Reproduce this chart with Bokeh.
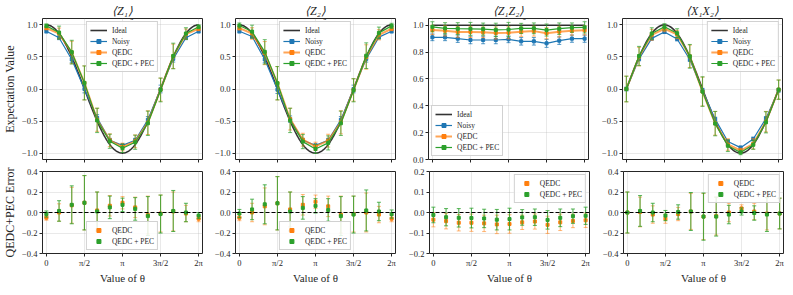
import numpy as np
from bokeh.plotting import figure
from bokeh.layouts import column, row
from bokeh.models import Range1d, FixedTicker, Span, Label, Legend, LegendItem
from bokeh.embed import file_html
from bokeh.resources import INLINE

PI = np.pi

# ---------------- data ----------------
theta_sixths = [0, 1, 2, 3, 4, 5, 6, 7, 8, 9, 10, 11, 12]
theta = [k * PI / 6 for k in theta_sixths]

x_tick_values = [0, PI / 2, PI, 3 * PI / 2, 2 * PI]
x_tick_labels = ["0", "π/2", "π", "3π/2", "2π"]

titles = ["⟨Z₁⟩", "⟨Z₂⟩", "⟨Z₁Z₂⟩", "⟨X₁X₂⟩"]
title_half_widths = [10.5, 10.5, 17.0, 18.0]
series_names = ["Ideal", "Noisy", "QEDC", "QEDC + PEC"]

# <Z1>
Z1_noisy = [0.90, 0.80, 0.46, 0.00, -0.45, -0.80, -0.88, -0.80, -0.48, 0.00, 0.47, 0.80, 0.90]
Z1_noisy_err = [0.025, 0.03, 0.05, 0.06, 0.05, 0.03, 0.025, 0.03, 0.05, 0.06, 0.05, 0.03, 0.025]
Z1_qedc = [0.95, 0.866, 0.57, 0.095, -0.48, -0.80, -0.905, -0.816, -0.525, -0.01, 0.51, 0.856, 0.94]
Z1_qedc_err = [0.025, 0.085, 0.175, 0.265, 0.18, 0.10, 0.06, 0.10, 0.185, 0.18, 0.19, 0.08, 0.03]
Z1_pec = [0.985, 0.881, 0.575, 0.095, -0.49, -0.816, -0.925, -0.831, -0.535, -0.015, 0.515, 0.866, 0.97]
Z1_pec_err = [0.03, 0.10, 0.185, 0.265, 0.19, 0.11, 0.065, 0.11, 0.19, 0.185, 0.20, 0.09, 0.03]
Z1_qedc_diff = [-0.05, 0.0, 0.07, 0.095, 0.02, 0.066, 0.095, 0.05, -0.025, -0.01, 0.01, -0.01, -0.06]
Z1_pec_diff = [-0.015, 0.015, 0.075, 0.095, 0.01, 0.05, 0.075, 0.035, -0.035, -0.015, 0.015, 0.0, -0.03]

# <Z2>
Z2_noisy = [0.90, 0.82, 0.46, -0.01, -0.47, -0.80, -0.88, -0.80, -0.48, 0.00, 0.47, 0.81, 0.90]
Z2_noisy_err = [0.025, 0.03, 0.05, 0.06, 0.05, 0.03, 0.025, 0.03, 0.05, 0.06, 0.05, 0.03, 0.025]
Z2_qedc = [0.95, 0.866, 0.56, 0.09, -0.47, -0.791, -0.895, -0.806, -0.52, -0.015, 0.50, 0.846, 0.94]
Z2_qedc_err = [0.03, 0.09, 0.18, 0.26, 0.17, 0.10, 0.065, 0.10, 0.18, 0.175, 0.19, 0.08, 0.03]
Z2_pec = [0.99, 0.896, 0.58, 0.09, -0.49, -0.821, -0.935, -0.841, -0.535, -0.02, 0.52, 0.876, 0.985]
Z2_pec_err = [0.04, 0.10, 0.19, 0.26, 0.19, 0.11, 0.07, 0.11, 0.19, 0.18, 0.20, 0.09, 0.04]
Z2_qedc_diff = [-0.05, 0.0, 0.06, 0.09, 0.03, 0.075, 0.105, 0.06, -0.02, -0.015, 0.0, -0.02, -0.06]
Z2_pec_diff = [-0.01, 0.03, 0.08, 0.09, 0.01, 0.045, 0.065, 0.025, -0.035, -0.02, 0.02, 0.01, -0.015]

# <Z1Z2>
ZZ_noisy = [0.91, 0.91, 0.90, 0.89, 0.89, 0.89, 0.895, 0.88, 0.88, 0.865, 0.885, 0.90, 0.90]
ZZ_noisy_err = [0.025, 0.025, 0.028, 0.028, 0.028, 0.028, 0.025, 0.028, 0.028, 0.03, 0.028, 0.027, 0.027]
ZZ_qedc = [0.965, 0.958, 0.95, 0.95, 0.947, 0.942, 0.944, 0.952, 0.956, 0.94, 0.952, 0.959, 0.962]
ZZ_qedc_err = [0.035, 0.038, 0.04, 0.042, 0.04, 0.045, 0.045, 0.035, 0.037, 0.042, 0.04, 0.033, 0.035]
ZZ_pec = [0.988, 0.977, 0.974, 0.973, 0.971, 0.965, 0.968, 0.976, 0.977, 0.964, 0.974, 0.982, 0.984]
ZZ_pec_err = [0.038, 0.042, 0.045, 0.048, 0.045, 0.05, 0.053, 0.038, 0.04, 0.045, 0.043, 0.035, 0.042]
ZZ_qedc_diff = [-0.035, -0.042, -0.05, -0.05, -0.053, -0.058, -0.056, -0.048, -0.044, -0.06, -0.048, -0.041, -0.038]
ZZ_pec_diff = [-0.012, -0.023, -0.026, -0.027, -0.029, -0.035, -0.032, -0.024, -0.023, -0.036, -0.026, -0.018, -0.016]

# <X1X2>
XX_noisy = [0.0, 0.47, 0.79, 0.89, 0.78, 0.46, -0.02, -0.47, -0.82, -0.915, -0.78, -0.46, -0.02]
XX_noisy_err = [0.03, 0.03, 0.03, 0.025, 0.03, 0.03, 0.03, 0.03, 0.03, 0.025, 0.03, 0.03, 0.03]
XX_qedc = [0.0, 0.505, 0.846, 0.94, 0.851, 0.51, -0.04, -0.535, -0.866, -0.96, -0.856, -0.51, -0.01]
XX_qedc_err = [0.2, 0.145, 0.085, 0.045, 0.065, 0.175, 0.225, 0.185, 0.09, 0.035, 0.08, 0.16, 0.15]
XX_pec = [0.0, 0.515, 0.866, 0.97, 0.871, 0.51, -0.04, -0.54, -0.886, -0.99, -0.871, -0.52, -0.01]
XX_pec_err = [0.2, 0.15, 0.09, 0.05, 0.07, 0.185, 0.23, 0.19, 0.09, 0.035, 0.07, 0.165, 0.15]
XX_qedc_diff = [0.0, 0.005, -0.02, -0.06, -0.015, 0.01, -0.04, -0.035, 0.0, 0.04, 0.01, -0.01, -0.01]
XX_pec_diff = [0.0, 0.015, 0.0, -0.03, 0.005, 0.01, -0.04, -0.04, -0.02, 0.01, -0.005, -0.02, -0.01]

# ideal (analytic) curves
theta_fine = np.linspace(0, 2 * PI, 300)
ideal_curves = [np.cos(theta_fine), np.cos(theta_fine), np.ones_like(theta_fine), np.sin(theta_fine)]

top_y_ranges = [(-1.1, 1.1), (-1.1, 1.1), (0.0, 1.05), (-1.1, 1.1)]
top_y_ticks = [[-1.0, -0.5, 0.0, 0.5, 1.0], [-1.0, -0.5, 0.0, 0.5, 1.0],
               [0.0, 0.2, 0.4, 0.6, 0.8, 1.0], [-1.0, -0.5, 0.0, 0.5, 1.0]]
bot_y_ranges = [(-0.4, 0.4), (-0.4, 0.4), (-0.2, 0.2), (-0.4, 0.4)]
bot_y_ticks = [[-0.4, -0.2, 0.0, 0.2, 0.4], [-0.4, -0.2, 0.0, 0.2, 0.4],
               [-0.2, -0.1, 0.0, 0.1, 0.2], [-0.4, -0.2, 0.0, 0.2, 0.4]]
top_legend_loc = ["top_center", "top_center", "bottom_left", "top_right"]
bot_legend_loc = ["bottom_center", "bottom_center", "top_right", "top_right"]

panels = [
    (Z1_noisy, Z1_noisy_err, Z1_qedc, Z1_qedc_err, Z1_pec, Z1_pec_err, Z1_qedc_diff, Z1_pec_diff),
    (Z2_noisy, Z2_noisy_err, Z2_qedc, Z2_qedc_err, Z2_pec, Z2_pec_err, Z2_qedc_diff, Z2_pec_diff),
    (ZZ_noisy, ZZ_noisy_err, ZZ_qedc, ZZ_qedc_err, ZZ_pec, ZZ_pec_err, ZZ_qedc_diff, ZZ_pec_diff),
    (XX_noisy, XX_noisy_err, XX_qedc, XX_qedc_err, XX_pec, XX_pec_err, XX_qedc_diff, XX_pec_diff),
]

# ---------------- style ----------------
FONT = "Liberation Serif"
BLUE, ORANGE, GREEN = "#1f77b4", "#ff7f0e", "#2ca02c"
DARK = "#262626"
FRAME_W = 160
TOP_FRAME_H = 141
BOT_FRAME_H = 82
col_left = [36, 22, 22, 22]
col_right = [10, 11, 11, 3]


def fmt(v):
    return ("%.1f" % v).replace("-", "−")


def style(p, yticks, show_xlabels):
    p.outline_line_color = DARK
    p.outline_line_width = 1
    p.background_fill_color = "white"
    p.border_fill_color = "white"
    p.xaxis.ticker = FixedTicker(ticks=x_tick_values)
    p.yaxis.ticker = FixedTicker(ticks=yticks)
    if show_xlabels:
        p.xaxis.major_label_overrides = {v: t for v, t in zip(x_tick_values, x_tick_labels)}
    else:
        p.xaxis.major_label_overrides = {v: "" for v in x_tick_values}
        p.xaxis.major_label_standoff = 0
    p.yaxis.major_label_overrides = {v: fmt(v) for v in yticks}
    for ax in (p.xaxis[0], p.yaxis[0]):
        ax.axis_line_color = None
        ax.major_tick_in = 0
        ax.major_tick_out = 3
        ax.major_tick_line_color = DARK
        ax.minor_tick_line_color = None
        ax.major_label_text_font = FONT
        ax.major_label_text_font_size = "8.5px"
        ax.major_label_text_color = DARK
        ax.axis_label_text_font = FONT
        ax.axis_label_text_font_style = "normal"
        ax.axis_label_text_color = DARK
        ax.axis_label_standoff = 2
    p.yaxis.major_label_standoff = 2
    if show_xlabels:
        p.xaxis.major_label_standoff = 1
    p.grid.grid_line_color = "#b0b0b0"
    p.grid.grid_line_alpha = 0.35
    p.grid.grid_line_width = 0.8


def errorbars(p, x, y, e, color, alpha=0.75, cap=4, width=1.1):
    lo = [yi - ei for yi, ei in zip(y, e)]
    hi = [yi + ei for yi, ei in zip(y, e)]
    p.segment(x0=x, y0=lo, x1=x, y1=hi, line_color=color, line_width=width, line_alpha=alpha)
    p.scatter(x=list(x) + list(x), y=lo + hi, marker="dash", size=cap,
              line_color=color, line_alpha=alpha, line_width=1)


def make_legend(items, loc):
    lg = Legend(items=items, location=loc)
    lg.label_text_font = FONT
    lg.label_text_font_size = "7.5px"
    lg.label_text_color = DARK
    lg.label_height = 9
    lg.label_standoff = 5
    lg.glyph_height = 10
    lg.glyph_width = 17
    lg.spacing = 1
    lg.padding = 3
    lg.margin = 3
    lg.border_line_color = "#cccccc"
    lg.border_line_alpha = 0.9
    lg.background_fill_alpha = 0.85
    return lg


top_figs, bot_figs = [], []
for i, (noisy, noisy_e, qedc, qedc_e, pec, pec_e, qd, pd_) in enumerate(panels):
    # ---------- top ----------
    p = figure(frame_width=FRAME_W, frame_height=TOP_FRAME_H,
               x_range=Range1d(-0.16, 2 * PI + 0.16), y_range=Range1d(*top_y_ranges[i]),
               output_backend="svg", toolbar_location=None, title=titles[i],
               min_border_left=col_left[i], min_border_right=col_right[i],
               min_border_top=0, min_border_bottom=4)
    style(p, top_y_ticks[i], False)
    p.title.align = "center"
    p.title.text_font = FONT
    p.title.text_font_size = "12px"
    p.title.text_font_style = "italic"
    p.title.text_color = DARK
    p.title.standoff = 2
    p.title.offset = -3
    if i == 0:
        p.yaxis.axis_label = "Expectation Value"
        p.yaxis.axis_label_text_font_size = "12px"

    r_ideal = p.line(theta_fine, ideal_curves[i], line_color="black", line_width=1.6, line_alpha=0.8)
    errorbars(p, theta, noisy, noisy_e, BLUE)
    r_nl = p.line(theta, noisy, line_color=BLUE, line_width=1.2)
    r_nm = p.scatter(theta, noisy, marker="square", size=3, color=BLUE)
    errorbars(p, theta, qedc, qedc_e, ORANGE, alpha=0.6)
    r_ql = p.line(theta, qedc, line_color=ORANGE, line_width=2.0, line_alpha=0.7)
    r_qm = p.scatter(theta, qedc, marker="square", size=3, color=ORANGE)
    errorbars(p, theta, pec, pec_e, GREEN, alpha=0.7)
    r_pl = p.line(theta, pec, line_color=GREEN, line_width=1.2)
    r_pm = p.scatter(theta, pec, marker="square", size=3, color=GREEN)

    items = [LegendItem(label=series_names[0], renderers=[r_ideal]),
             LegendItem(label=series_names[1], renderers=[r_nl, r_nm]),
             LegendItem(label=series_names[2], renderers=[r_ql, r_qm]),
             LegendItem(label=series_names[3], renderers=[r_pl, r_pm])]
    p.add_layout(make_legend(items, top_legend_loc[i]))

    # subscript theta of the title
    p.add_layout(Label(x=PI, y=top_y_ranges[i][1], x_offset=title_half_widths[i] - 3, y_offset=1,
                       text="θ", text_align="left", text_baseline="alphabetic",
                       text_font=FONT, text_font_size="8px", text_font_style="italic",
                       text_color=DARK))
    top_figs.append(p)

    # ---------- bottom ----------
    b = figure(frame_width=FRAME_W, frame_height=BOT_FRAME_H,
               x_range=Range1d(-0.16, 2 * PI + 0.16), y_range=Range1d(*bot_y_ranges[i]),
               output_backend="svg", toolbar_location=None,
               min_border_left=col_left[i], min_border_right=col_right[i],
               min_border_top=8, min_border_bottom=10)
    style(b, bot_y_ticks[i], True)
    b.xaxis.axis_label = "Value of θ"
    b.xaxis.axis_label_text_font_size = "11px"
    b.xaxis.axis_label_standoff = 1
    if i == 0:
        b.yaxis.axis_label = "QEDC+PEC Error"
        b.yaxis.axis_label_text_font_size = "12px"

    b.add_layout(Span(location=0, dimension="width", line_color="black",
                      line_dash="4 2", line_width=1.2))
    errorbars(b, theta, qd, qedc_e, ORANGE, alpha=0.55)
    r_bq = b.scatter(theta, qd, marker="square", size=3, color=ORANGE)
    errorbars(b, theta, pd_, pec_e, GREEN, alpha=0.8)
    r_bp = b.scatter(theta, pd_, marker="square", size=3, color=GREEN)
    bitems = [LegendItem(label=series_names[2], renderers=[r_bq]),
              LegendItem(label=series_names[3], renderers=[r_bp])]
    b.add_layout(make_legend(bitems, bot_legend_loc[i]))
    bot_figs.append(b)

layout = column(row(*top_figs), row(*bot_figs))
open("out.html", "w").write(file_html(layout, INLINE))
